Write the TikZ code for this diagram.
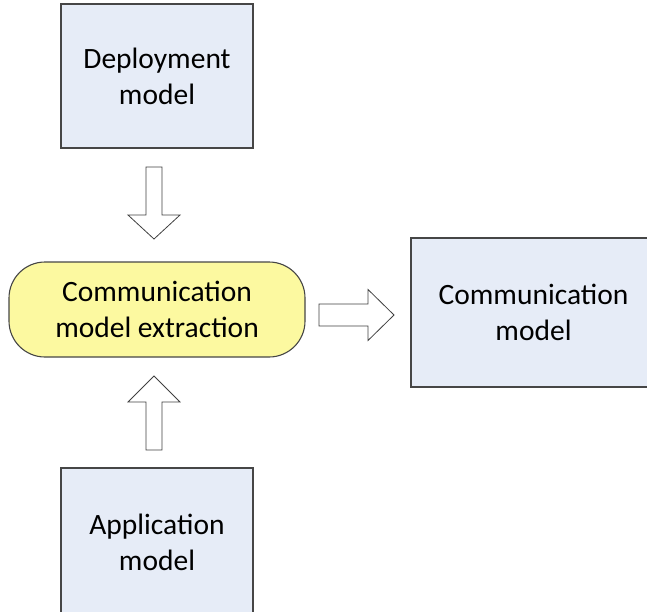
\documentclass[tikz,border=0pt]{standalone}
\usepackage{fontspec}
\setmainfont{Carlito}
\usetikzlibrary{shadows}

\definecolor{boxfill}{RGB}{230,236,247}
\definecolor{procfill}{RGB}{252,249,160}
\definecolor{edgegray}{RGB}{70,70,70}
\definecolor{arrowgray}{RGB}{64,64,64}

\tikzset{
  x=1pt, y=1pt,
  every node/.style={font=\fontsize{29.5}{36}\selectfont, align=center, inner sep=0pt},
  modelbox/.style={draw=edgegray, line width=1.2pt, fill=boxfill,
    drop shadow={shadow xshift=1.2pt, shadow yshift=-1.2pt, opacity=0.6, fill=black}},
  procbox/.style={draw=edgegray, line width=1.1pt, fill=procfill, rounded corners=36pt},
  arrowline/.style={draw=arrowgray, line width=0.8pt, fill=white, line join=miter},
  % hollow block arrow: length / shaft half-width / head length / head half-width
  pics/blockarrow/.style args={#1/#2/#3/#4}{code={
    \path[arrowline] (0,-#2) -- (#1-#3,-#2) -- (#1-#3,-#4) -- (#1,0)
      -- (#1-#3,#4) -- (#1-#3,#2) -- (0,#2) -- cycle;
  }}
}

\begin{document}
\begin{tikzpicture}
  \clip (0,0) rectangle (647,-611);
  \useasboundingbox (0,0) rectangle (647,-611);

  % models and the extraction step
  \node[modelbox, minimum width=192pt, minimum height=144pt] (dep) at (157,-76)
    {Deployment\\model};
  \node[procbox, minimum width=296pt, minimum height=95pt] (extract) at (157,-309.5)
    {Communication\\model extraction};
  \node[modelbox, minimum width=245pt, minimum height=149pt] (comm) at (533.5,-312.5)
    {Communication\\model};
  \node[modelbox, minimum width=192pt, minimum height=148pt] (app) at (157,-542)
    {Application\\model};

  % tails of the block arrows
  \coordinate (depout) at (154,-167);
  \coordinate (appout) at (154,-450);
  \coordinate (extout) at (319,-315);

  \pic[rotate=-90] (a1) at (depout) {blockarrow=72/8/24/26};
  \pic[rotate=90]  (a2) at (appout) {blockarrow=74/8/26/26};
  \pic             (a3) at (extout) {blockarrow=75/11/26/25.5};
\end{tikzpicture}
\end{document}
